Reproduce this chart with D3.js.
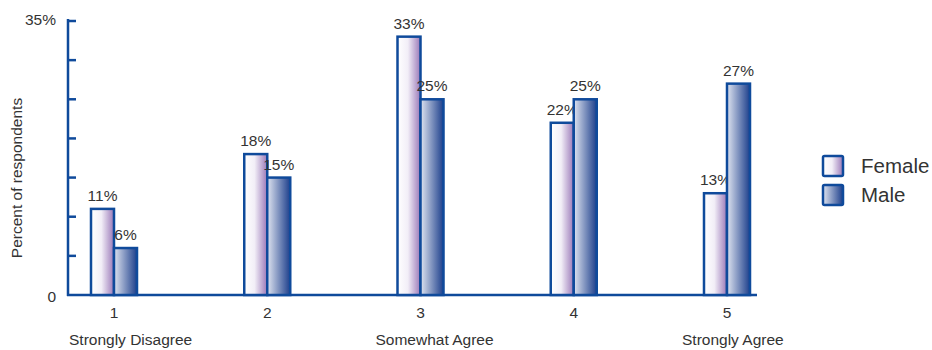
<!DOCTYPE html>
<html>
<head>
<meta charset="utf-8">
<script src="https://cdn.jsdelivr.net/npm/d3@7"></script>
<style>
  body { margin: 0; background: #fff; }
  svg { font-family: Arial, "Liberation Sans", sans-serif; }
</style>
</head>
<body>
<div id="chart"></div>
<script>
const width = 932;
const height = 350;

const categories = ['1', '2', '3', '4', '5'];
const catNames = ['Strongly Disagree', '', 'Somewhat Agree', '', 'Strongly Agree'];
const series = ['Female', 'Male'];
const female = [11, 18, 33, 22, 13];
const male = [6, 15, 25, 25, 27];
const yTicks = [0, 5, 10, 15, 20, 25, 30, 35];

const blue = '#0f4a9b';
const fs = 15.5;

const svg = d3.select('#chart')
    .append('svg')
    .attr('width', width)
    .attr('height', height);

const defs = svg.append('defs');
const gf = defs.append('linearGradient').attr('id', 'gFemale');
gf.append('stop').attr('offset', '0%').attr('stop-color', '#ffffff');
gf.append('stop').attr('offset', '45%').attr('stop-color', '#f2eef7');
gf.append('stop').attr('offset', '100%').attr('stop-color', '#9a78b8');
const gm = defs.append('linearGradient').attr('id', 'gMale');
gm.append('stop').attr('offset', '0%').attr('stop-color', '#dfe4f0');
gm.append('stop').attr('offset', '100%').attr('stop-color', '#1d3f8c');

const xScale = d3.scalePoint().domain(categories).range([114, 727]);
const yScale = d3.scaleLinear().domain([0, 35]).range([295, 21]);
const barW = 23;

// y axis
svg.append('line')
    .attr('x1', 68).attr('x2', 68)
    .attr('y1', yScale(35) - 2).attr('y2', yScale(0) + 1)
    .attr('stroke', blue).attr('stroke-width', 2.5);
svg.append('line')
    .attr('x1', 67).attr('x2', 757)
    .attr('y1', yScale(0)).attr('y2', yScale(0))
    .attr('stroke', blue).attr('stroke-width', 2.5);
svg.selectAll('.ytick')
    .data(yTicks.slice(1))
    .join('line')
    .attr('class', 'ytick')
    .attr('x1', 68).attr('x2', 76)
    .attr('y1', d => yScale(d)).attr('y2', d => yScale(d))
    .attr('stroke', blue).attr('stroke-width', 2.5);

svg.append('text')
    .attr('x', 56).attr('y', yScale(35) + 4)
    .attr('text-anchor', 'end').attr('font-size', fs).attr('fill', '#333')
    .text('35%');
svg.append('text')
    .attr('x', 56).attr('y', yScale(0) + 7)
    .attr('text-anchor', 'end').attr('font-size', fs).attr('fill', '#333')
    .text('0');

svg.append('text')
    .attr('transform', `translate(22, 178) rotate(-90)`)
    .attr('text-anchor', 'middle').attr('font-size', fs).attr('fill', '#333')
    .text('Percent of respondents');

// bars
const groups = [
    { name: 'Female', values: female, fill: 'url(#gFemale)', dx: -barW },
    { name: 'Male', values: male, fill: 'url(#gMale)', dx: 0 }
];

groups.forEach(g => {
    svg.append('g')
        .selectAll('rect')
        .data(categories)
        .join('rect')
        .attr('x', (d) => xScale(d) + g.dx)
        .attr('y', (d, i) => yScale(g.values[i]))
        .attr('width', barW)
        .attr('height', (d, i) => yScale(0) - yScale(g.values[i]))
        .attr('fill', g.fill)
        .attr('stroke', blue)
        .attr('stroke-width', 2.5);

    svg.append('g')
        .selectAll('text')
        .data(categories)
        .join('text')
        .attr('x', (d) => xScale(d) + g.dx + barW / 2)
        .attr('y', (d, i) => yScale(g.values[i]) - 8)
        .attr('text-anchor', 'middle')
        .attr('font-size', fs)
        .attr('fill', '#333')
        .text((d, i) => g.values[i] + '%');
});

// x labels
svg.append('g')
    .selectAll('text')
    .data(categories)
    .join('text')
    .attr('x', d => xScale(d))
    .attr('y', 318)
    .attr('text-anchor', 'middle')
    .attr('font-size', fs)
    .attr('fill', '#333')
    .text(d => d);

svg.append('g')
    .selectAll('text')
    .data(categories)
    .join('text')
    .attr('x', d => xScale(d) - 45)
    .attr('y', 345)
    .attr('text-anchor', 'start')
    .attr('font-size', fs)
    .attr('fill', '#333')
    .text((d, i) => catNames[i]);

// legend
const legend = svg.append('g').attr('transform', 'translate(823, 156)');
groups.forEach((g, i) => {
    legend.append('rect')
        .attr('x', 0).attr('y', i * 29)
        .attr('width', 20).attr('height', 20)
        .attr('rx', 1.5)
        .attr('fill', g.fill)
        .attr('stroke', blue)
        .attr('stroke-width', 2.5);
    legend.append('text')
        .attr('x', 38).attr('y', i * 29 + 17)
        .attr('font-size', 20.5)
        .attr('fill', '#333')
        .text(g.name);
});
</script>
</body>
</html>
